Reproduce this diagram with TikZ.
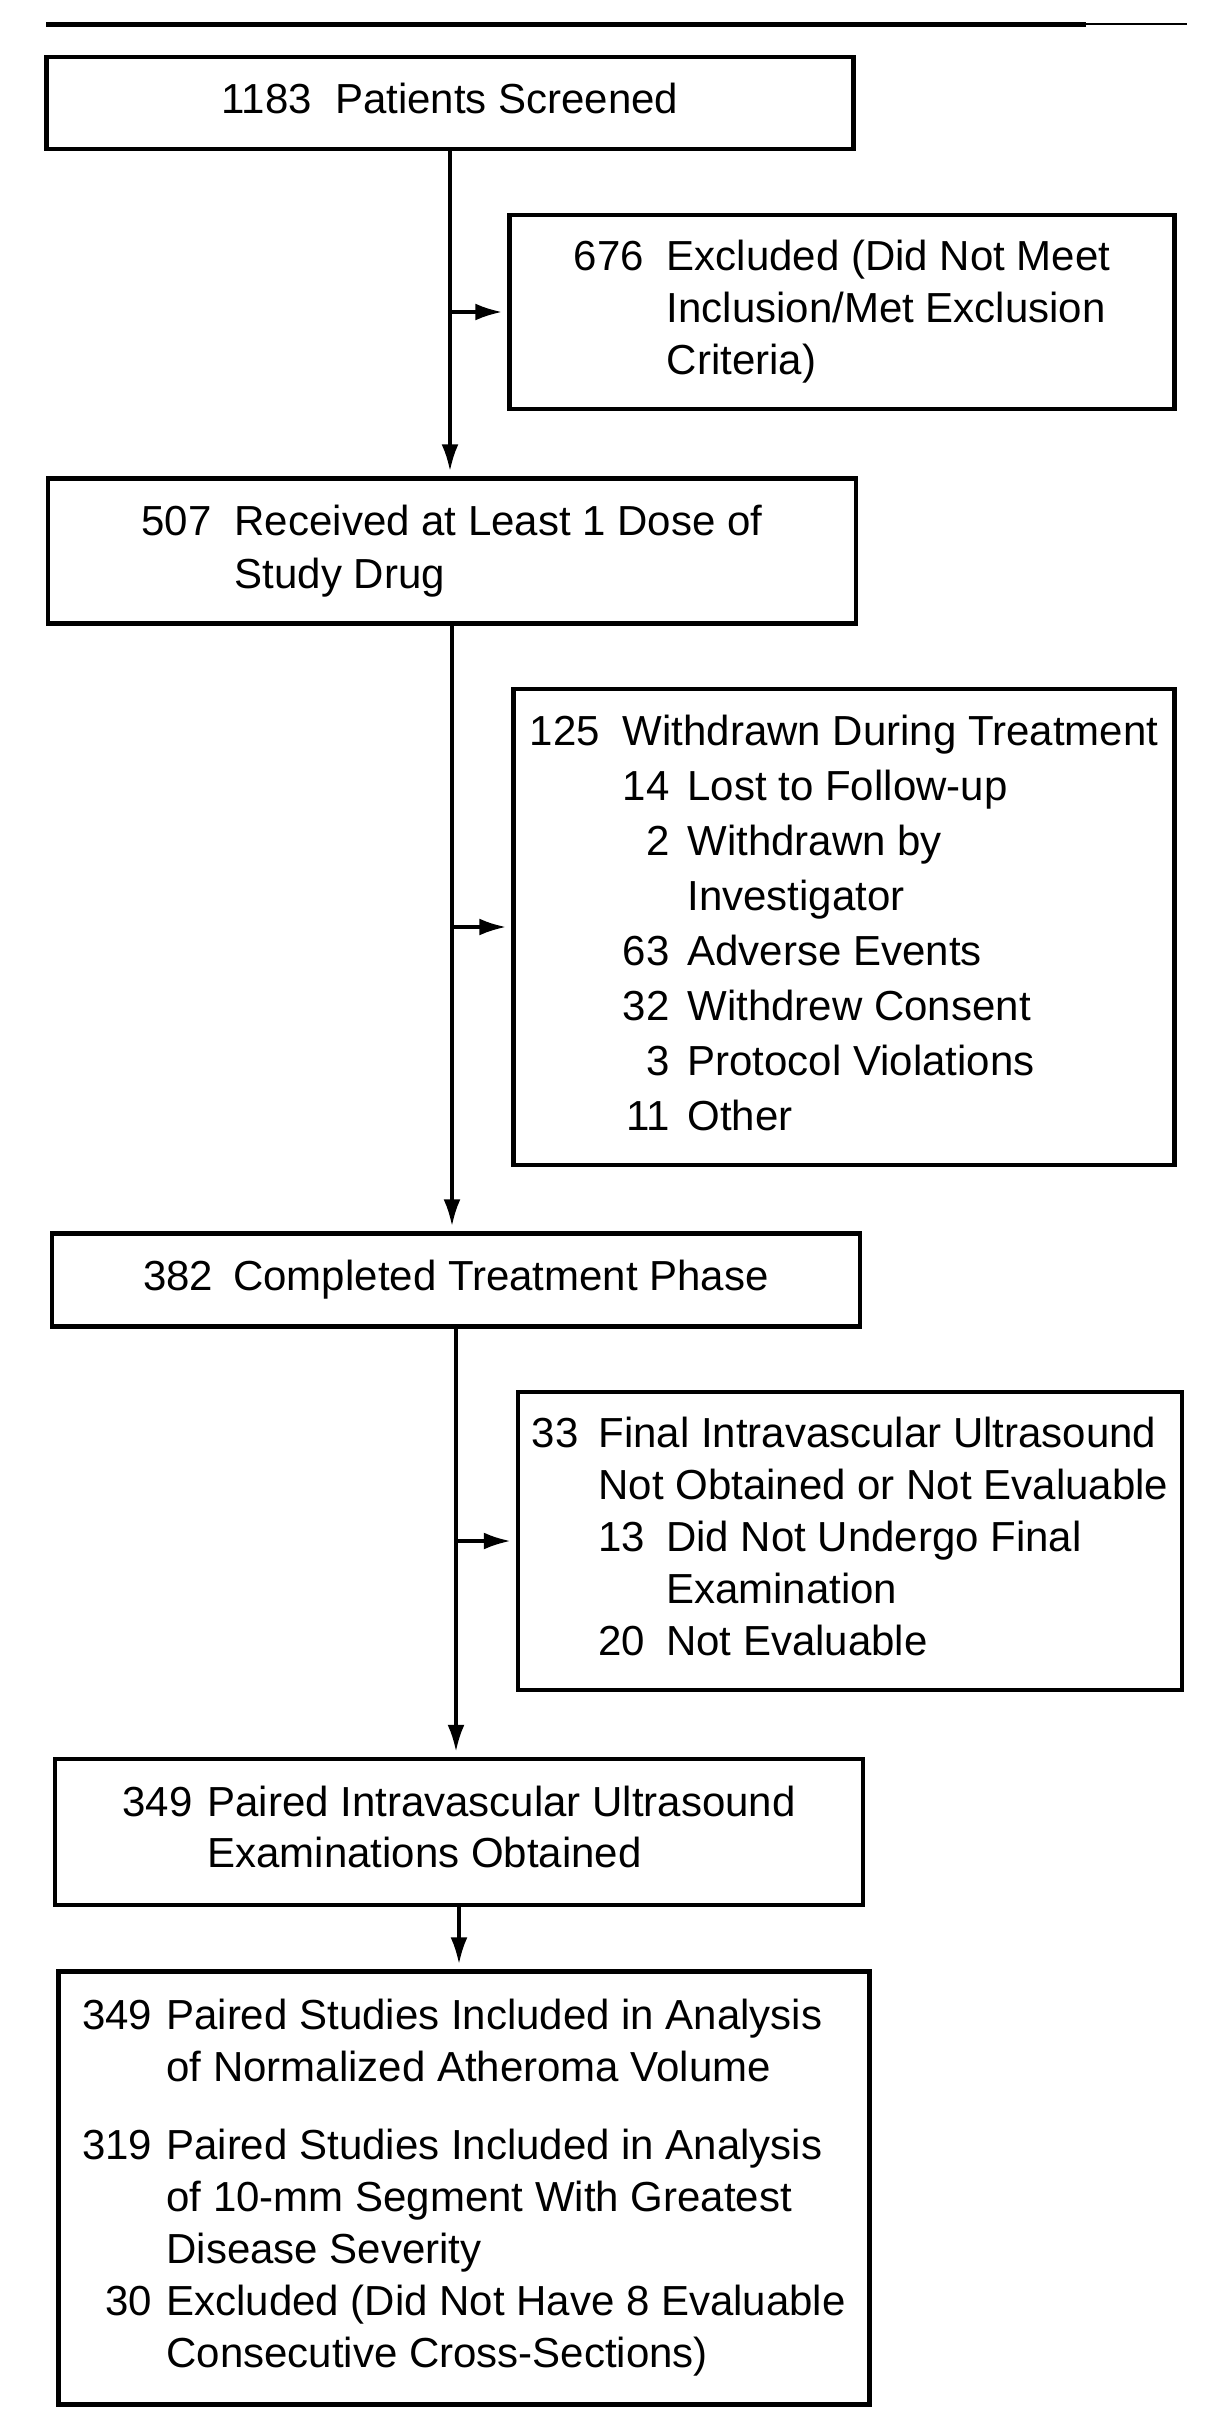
\documentclass[tikz,border=0pt]{standalone}
\usepackage{fontspec}
\setmainfont{Liberation Sans}
\usetikzlibrary{arrows.meta}
\newcommand{\fs}[1]{\fontsize{42bp}{#1}\selectfont\setbox\strutbox\hbox{\vrule height 0.7\baselineskip depth 0.3\baselineskip width 0pt}}
\begin{document}
\begin{tikzpicture}[x=1bp,y=-1bp,
  box/.style={draw, line width=4.5bp, inner sep=0pt, align=center},
  conn/.style={line width=3.5bp, -{Latex[length=27bp,width=17bp]}, shorten >=5bp},
  rule/.style={line width=5bp}]
\useasboundingbox (0,0) rectangle (1213,2420);
\draw[rule] (46,25) -- (1086,25);
\draw[line width=2.5bp] (1086,24) -- (1187,24);

\node[box, minimum width=807bp, minimum height=92bp] (b1) at (450,103)
  {\fs{53bp}\begin{tabular}{@{}r@{\hspace{23bp}}l@{}}1183 & Patients Screened\end{tabular}};

\node[box, minimum width=665bp, minimum height=194bp] (b676) at (842,312)
  {\fs{52bp}\begin{tabular}{@{}r@{\hspace{23bp}}l@{}}676 & Excluded (Did Not Meet\\ & Inclusion/Met Exclusion\\ & Criteria)\end{tabular}};

\node[box, minimum width=808bp, minimum height=145bp] (b507) at (452,551)
  {\fs{53bp}\begin{tabular}{@{}r@{\hspace{23bp}}l@{}}507 & Received at Least 1 Dose of\\ & Study Drug\end{tabular}};

\node[box, minimum width=661bp, minimum height=476bp] (b125) at (844,927)
  {\fs{55bp}\begin{tabular}{@{}r@{\hspace{23bp}}r@{\hspace{18bp}}l@{}}125 & \multicolumn{2}{@{}l@{}}{Withdrawn During Treatment}\\
   & 14 & Lost to Follow-up\\
   & 2 & Withdrawn by\\
   & & Investigator\\
   & 63 & Adverse Events\\
   & 32 & Withdrew Consent\\
   & 3 & Protocol Violations\\
   & 11 & Other\end{tabular}};

\node[box, minimum width=808bp, minimum height=93bp] (b382) at (456,1280)
  {\fs{53bp}\begin{tabular}{@{}r@{\hspace{20bp}}l@{}}382 & Completed Treatment Phase\end{tabular}};

\node[box, minimum width=664bp, minimum height=298bp] (b33) at (850,1541)
  {\fs{52bp}\begin{tabular}{@{}r@{\hspace{20bp}}r@{\hspace{21bp}}l@{}}33 & \multicolumn{2}{@{}l@{}}{Final Intravascular Ultrasound}\\
   & \multicolumn{2}{@{}l@{}}{Not Obtained or Not Evaluable}\\
   & 13 & Did Not Undergo Final\\
   & & Examination\\
   & 20 & Not Evaluable\end{tabular}};

\node[box, minimum width=808bp, minimum height=146bp] (b349) at (459,1832)
  {\fs{51bp}\begin{tabular}{@{}r@{\hspace{15bp}}l@{}}349 & Paired Intravascular Ultrasound\\ & Examinations Obtained\end{tabular}};

\node[box, minimum width=811bp, minimum height=433bp] (bfin) at (464,2188)
  {\fs{52bp}\begin{tabular}{@{}r@{\hspace{14bp}}l@{}}349 & Paired Studies Included in Analysis\\
   & of Normalized Atheroma Volume\\[26bp]
   319 & Paired Studies Included in Analysis\\
   & of 10-mm Segment With Greatest\\
   & Disease Severity\\
   30 & Excluded (Did Not Have 8 Evaluable\\
   & Consecutive Cross-Sections)\end{tabular}};

\draw[conn] (b1.south) -- (b1.south |- b507.north);
\draw[conn] (b1.south |- b676.west) -- (b676.west);
\draw[conn] (b507.south) -- (b507.south |- b382.north);
\draw[conn] (b507.south |- b125.west) -- (b125.west);
\draw[conn] (b382.south) -- (b382.south |- b349.north);
\draw[conn] (b382.south |- b33.west) -- (b33.west);
\draw[conn] (b349.south) -- (b349.south |- bfin.north);
\end{tikzpicture}
\end{document}
